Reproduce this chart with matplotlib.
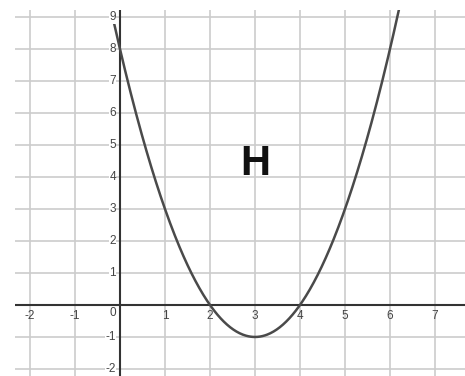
import numpy as np
import matplotlib
matplotlib.use("Agg")
import matplotlib.pyplot as plt

# Data: parabola with roots 2 and 4, vertex (3, -1)
coeffs = [1, -6, 8]          # y = x^2 - 6x + 8
x_ticks = [-2, -1, 1, 2, 3, 4, 5, 6, 7]
y_ticks = [-2, -1, 1, 2, 3, 4, 5, 6, 7, 8, 9]
label_text = "H"
label_pos = (3.0, 4.4)

xmin, xmax = -2.333, 7.667
ymin, ymax = -2.22, 9.22

fig = plt.figure(figsize=(4.65, 3.76), dpi=100)
ax = fig.add_axes([15/465, 0, 450/465, 366/376])
ax.set_xlim(xmin, xmax)
ax.set_ylim(ymin, ymax)
for s in ax.spines.values():
    s.set_visible(False)
ax.set_xticks([])
ax.set_yticks([])

grid_c = "#cccccc"
for gx in range(-2, 8):
    ax.axvline(gx, color=grid_c, lw=1.2, zorder=1)
for gy in range(-2, 10):
    ax.axhline(gy, color=grid_c, lw=1.2, zorder=1)
ax.axhline(0, color="#333333", lw=1.5, zorder=2)
ax.axvline(0, color="#333333", lw=1.5, zorder=2)

xs = np.linspace(-0.5, 6.5, 400)
ax.plot(xs, np.polyval(coeffs, xs), color="#4a4a4a", lw=1.8, zorder=3)

fam = ["Liberation Sans", "DejaVu Sans"]
tc = "#444444"
fs = 8.5
for t in x_ticks:
    ax.annotate(str(t), (t, 0), xytext=(0, -8), textcoords="offset points",
                ha="center", va="center", fontsize=fs, color=tc, family=fam, zorder=4)
ax.annotate("0", (0, 0), xytext=(-5, -6), textcoords="offset points",
            ha="center", va="center", fontsize=fs, color=tc, family=fam, zorder=4)
for t in y_ticks:
    ax.annotate(str(t), (0, t), xytext=(-3, 0), textcoords="offset points",
                ha="right", va="center", fontsize=fs, color=tc, family=fam, zorder=4,
                bbox=dict(boxstyle="square,pad=0.05", fc="white", ec="none"))

ax.text(label_pos[0], label_pos[1], label_text, ha="center", va="center",
        fontsize=30, fontweight="bold", family=fam, color="#111111", zorder=5)

fig.savefig("out.png", dpi=100)
